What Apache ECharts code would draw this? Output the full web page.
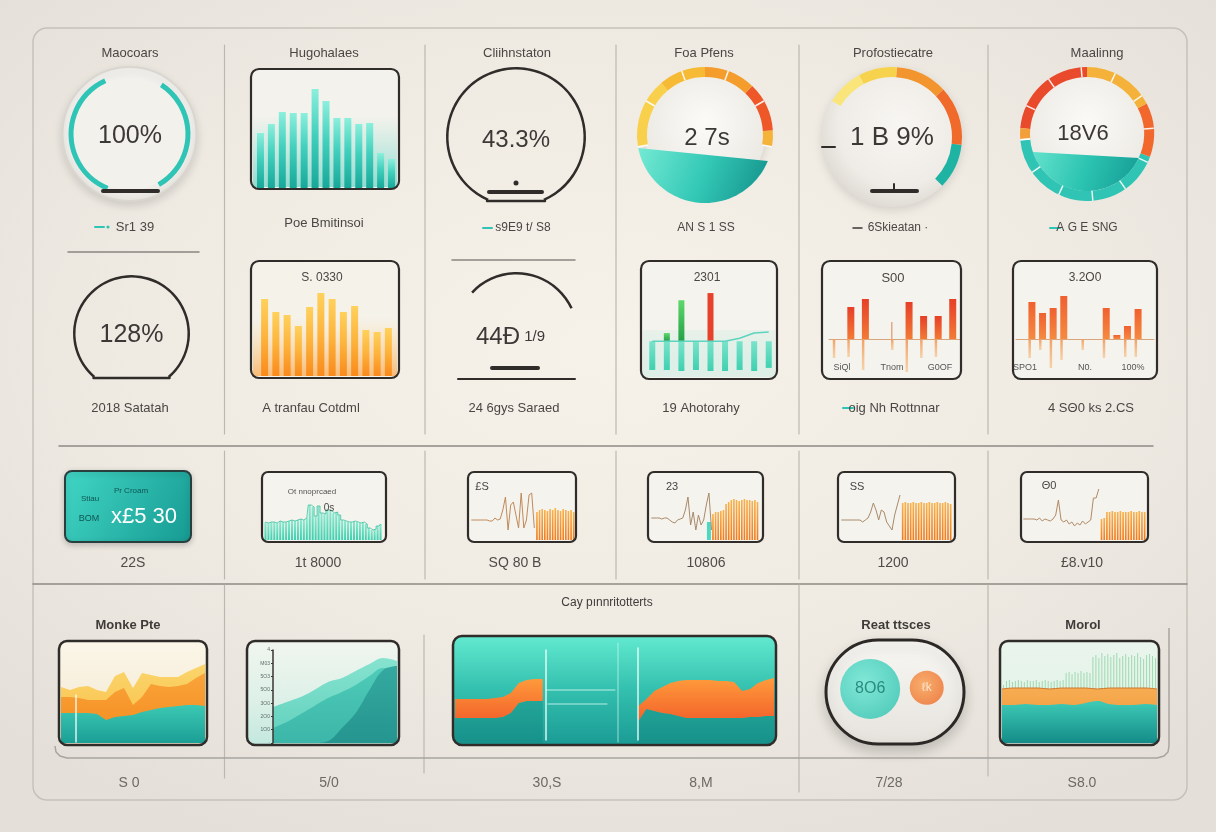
<!DOCTYPE html>
<html>
<head>
<meta charset="utf-8">
<title>Dashboard</title>
<script src="https://cdn.jsdelivr.net/npm/echarts@6.0.0/dist/echarts.min.js"></script>
<style>
html,body{margin:0;padding:0;}
body{width:1216px;height:832px;overflow:hidden;background:#ebe7e0;}
#chart{width:1216px;height:832px;background:radial-gradient(ellipse 70% 65% at 50% 42%, #f6f2ea 0%, #efebe3 55%, #e4e0d9 100%);}
</style>
</head>
<body>
<div id="chart"></div>
<script>
// ================= DATA =================
const row1Titles = ['Maocoars','Hugohalaes','Cliihnstaton','Foa Pfens','Profostiecatre','Maalinng'];
const row1Captions = ['Sr1 39','Poe Bmitinsoi','s9E9 t/ S8','AN S 1 SS','6Skieatan ·','A G E SNG'];
const row2Captions = ['2018 Satatah','A tranfau Cotdml','24 6gys Saraed','19 Ahotorahy','oig Nh Rottnnar','4 SΘ0 ks 2.CS'];
const row3Captions = ['22S','1t 8000','SQ 80 B','10806','1200','£8.v10'];
const row4Titles = ['Monke Pte','Cay pınnritotterts','Reat ttsces','Morol'];
const row4Captions = ['S 0','5/0','30,S','8,M','7/28','S8.0'];
const boxLabels = ['S. 0330','2301','S00','3.2O0'];
const boxAxisLabels5 = ['SiQl','Tnom','G0OF'];
const boxAxisLabels6 = ['SPO1','N0.','100%'];
const sparkLabels = ['Ot nnoprcaed','0s','£S','23','SS','Θ0'];
const kpiTexts = ['Pr Croam','Stiau','BOM','x£5 30'];
const centerTexts = ['100%','43.3%','2 7s','1 B 9%','18V6','128%'];
const arcTexts = ['44Ð',' 1/9'];

const ringArcs = [57.5, 117, 52, 133.5];
const gaugeValues = [43.3, 27, 18.9, 18, 128, 44];

const tealBars = [55,64,76,75,75,99,87,70,70,64,65,35,29];
const orangeBars = [77,64,61,50,69,83,77,64,70,46,44,48];

const mixNeg = [-28,-28,-29,-28,-29,-29,-28,-29,-26];
const mixGreen = [null,8,40,null,null,null,null,null,null];
const mixRed = [null,null,null,null,47,null,null,null,null];
const mixLine = [0,0,0,0,0,0,3,8,9];

const p5Up = [null,32,40,null,null,37,23,23,40];
const p5Down = [-19,-18,-31,null,-11,-33,-19,-18,null];
const p5Thin = [null,null,null,null,17,null,null,null,null];

const p6Up = [null,37,26,31,43,null,null,null,31,4,13,30,null];
const p6Down = [null,-19,-11,-29,-21,null,-11,null,-19,null,-18,-18,null];

const spark2 = [18,17,18,18,17,19,18,18,19,20,19,20,21,20,22,35,33,24,34,27,26,30,29,27,28,25,20,19,18,18,19,18,17,18,16,12,10,11,14,16];
const spark3Line = [20,20,20,20,20,20,20,19,19,22,20,21,30,43,10,35,38,25,12,47,12,20,45,47,12];
const spark3Bars = [28,30,31,30,29,31,30,32,30,29,31,30,29,30,28];
const spark4Line = [22,22,22,22,21,22,22,20,18,17,20,21,22,30,43,15,28,10,25,15,20,35,47,10];
const spark4Bars = [26,28,28,29,30,36,38,40,41,40,39,40,41,40,40,39,40,38];
const spark4Teal = [22, 18];
const spark5Line = [20,20,20,20,20,20,20,20,18,20,22,28,37,30,20,30,28,18,14,10,25,35,45];
const spark5Bars = [37,38,37,37,38,37,37,38,37,37,38,37,37,38,37,37,38,37,36];
const spark6Line = [21,21,21,21,21,20,22,19,21,20,19,21,25,40,20,18,20,16,18,14,17,15,19,16,18,20,42,42,51];
const spark6Bars = [21,22,28,28,29,28,28,29,28,28,28,29,28,28,29,28,28];

const monkeYellow = [56,53,56,57,53,51,67,71,55,70,68,66,66,66,71,75,79];
const monkeOrange = [46,46,45,43,43,43,51,55,38,46,59,57,56,57,59,65,70];
const monkeTeal = [30,30,30,30,29,23,26,27,28,31,33,35,36,37,38,38,37];

const hillBack = [271,309,346,399,459,489,542,595,640,617];
const hillMid = [113,158,218,279,339,384,437,504,565,565];
const hillFront = [0,0,0,0,15,113,226,399,550,580];
const hillTicks = ['·','1O0','2O0','3O0','5O0','5O3','M03','4'];

const bandTop = [44,44,44,44,44,45,46,50,60,63,64,64,null,null,null,null,null,null,null,null,null,null,null,37,44,52,56,60,62,63,63,63,63,62,62,61,52,54,60,63,65];
const bandBottom = [25,25,25,25,25,25,26,30,40,42,42,42,null,null,null,null,null,null,null,null,null,null,null,22,34,32,30,29,27,25,25,25,25,25,25,25,25,26,26,27,27];

const bubbles = [[32,53,60],[73,54,34]];
const bubbleLabels = ['8O6','ℓk'];

const morolBars = [58,62,63,61,62,63,62,61,63,62,62,63,61,62,63,62,61,62,63,62,63,70,71,69,71,70,72,70,71,70,86,88,85,90,87,89,86,88,90,85,87,89,86,88,87,90,86,84,88,89,87,85];
const morolOrange = [54,55,55,55,54,55,55,55,54,55,55,55,55,54];
const morolTeal = [38,38,39,38,38,39,38,40,42,39,38,38,39,38];

// ================= HELPERS =================
const FONT = '"Liberation Sans", Arial, "DejaVu Sans", sans-serif';
const TXT = '#4a4643';
const DARK = '#2f2c2a';
const grids = [], xAxes = [], yAxes = [], series = [], G = [];

function lg(x, y, x2, y2, stops) {
  return { type: 'linear', x, y, x2, y2, colorStops: stops.map(s => ({ offset: s[0], color: s[1] })) };
}
function rg(cx, cy, r, stops) {
  return { type: 'radial', x: cx, y: cy, r, colorStops: stops.map(s => ({ offset: s[0], color: s[1] })) };
}
function grid(l, t, w, h) { grids.push({ left: l, top: t, width: w, height: h, containLabel: false }); return grids.length - 1; }
function xcat(g, n, gap, extra) {
  xAxes.push(Object.assign({ type: 'category', gridIndex: g, show: false, boundaryGap: gap !== false,
    data: Array.from({ length: n }, (_, i) => String(i)) }, extra || {}));
  return xAxes.length - 1;
}
function xval(g, min, max) { xAxes.push({ type: 'value', gridIndex: g, show: false, min, max }); return xAxes.length - 1; }
function yval(g, min, max, extra) {
  yAxes.push(Object.assign({ type: 'value', gridIndex: g, show: false, min, max, splitLine: { show: false } }, extra || {}));
  return yAxes.length - 1;
}
function rect(x, y, w, h, r, style, z) { G.push({ type: 'rect', silent: true, z: z == null ? 0 : z, shape: { x, y, width: w, height: h, r }, style }); }
function line(x1, y1, x2, y2, stroke, lw, z) { G.push({ type: 'line', silent: true, z: z == null ? 5 : z, shape: { x1, y1, x2, y2 }, style: { stroke, lineWidth: lw, lineCap: 'round' } }); }
function circ(cx, cy, r, style, z) { G.push({ type: 'circle', silent: true, z: z == null ? 0 : z, shape: { cx, cy, r }, style }); }
function poly(points, style, z, type) { G.push({ type: type || 'polygon', silent: true, z: z == null ? 1 : z, shape: { points }, style }); }
function txt(x, y, s, size, color, weight, align) {
  G.push({ type: 'text', silent: true, z: 20, x, y, style: { text: s, fontSize: size, fontFamily: FONT, fontWeight: weight || 'normal',
    fill: color || TXT, textAlign: align || 'center', textVerticalAlign: 'middle', align: align || 'center', verticalAlign: 'middle' } });
}
function bowl(cx, cy, r, leftY, rightY, fill) {
  const tR = Math.asin((rightY - cy) / r), tL = Math.PI - Math.asin((leftY - cy) / r);
  const pts = [];
  for (let k = 0; k <= 48; k++) { const t = tR + (tL - tR) * k / 48; pts.push([cx + r * Math.cos(t), cy + r * Math.sin(t)]); }
  poly(pts, { fill }, 1);
}
function boxBg(x, y, w, h, r, fill) { rect(x, y, w, h, r, { fill }, 0); }
function boxBorder(x, y, w, h, r, lw) { rect(x, y, w, h, r, { fill: 'none', stroke: DARK, lineWidth: lw || 2.2 }, 10); }
function gauge(o) {
  series.push({
    type: 'gauge', center: o.center, radius: o.radius, startAngle: o.start, endAngle: o.end, min: 0, max: o.max || 100,
    splitNumber: o.split || 5, silent: true, z: 3,
    axisLine: { show: true, lineStyle: { width: o.width, color: o.colors } },
    progress: { show: false }, pointer: { show: false }, anchor: { show: false }, title: { show: false },
    axisTick: { show: false },
    splitLine: o.splitLine ? { show: true, length: o.width, distance: -o.width, lineStyle: { color: 'rgba(255,255,255,0.9)', width: 1.5 } } : { show: false },
    axisLabel: { show: false },
    detail: Object.assign({ show: true, offsetCenter: o.offset || [0, 0], fontSize: o.fontSize || 24, color: '#3b3836',
      fontFamily: FONT, fontWeight: 'normal', formatter: o.formatter, valueAnimation: false }, o.detail || {}),
    data: [{ value: o.value }]
  });
}

// ================= FRAME & DIVIDERS =================
rect(33, 28, 1154, 772, 14, { fill: 'none', stroke: '#c6c2bb', lineWidth: 1.5 }, 1);
const colX = [224.5, 425, 616, 799, 988];
colX.forEach(x => line(x, 45, x, 434, '#bcb7af', 1.2, 1));
line(59, 446, 1153, 446, '#8e8a84', 1.5, 1);
colX.forEach(x => line(x, 451, x, 579, '#bcb7af', 1.2, 1));
line(33, 584, 1187, 584, '#8e8a84', 1.5, 1);
line(224.5, 585, 224.5, 778, '#bcb7af', 1.2, 1);
line(424, 635, 424, 773, '#bcb7af', 1.2, 1);
line(799, 585, 799, 792, '#bcb7af', 1.2, 1);
line(988, 585, 988, 776, '#bcb7af', 1.2, 1);
poly([[55,746],[56,752],[60,756],[67,758],[1157,758],[1164,756],[1168,752],[1169,746],[1169,628]],
  { fill: 'none', stroke: '#a8a49e', lineWidth: 1.5 }, 1, 'polyline');

// ================= ROW 1 =================
const r1x = [130, 324, 517, 704, 893, 1097];
row1Titles.forEach((t, i) => txt(r1x[i], 53, t, 13, TXT));

// P1 ring
circ(129.5, 134, 67, { fill: rg(0.5, 0.45, 0.6, [[0, '#fbfaf8'], [0.75, '#f1efeb'], [1, '#e2dfda']]), stroke: '#d9d6d0', lineWidth: 2,
  shadowBlur: 10, shadowColor: 'rgba(0,0,0,0.13)', shadowOffsetY: 4 }, 0);
circ(129.5, 134, 56, { fill: '#f3f1ec' }, 1);
series.push({ type: 'pie', center: [129.5, 134], radius: [56, 61], startAngle: 114.5, clockwise: true, silent: true, z: 3,
  label: { show: false }, labelLine: { show: false },
  data: ringArcs.map((v, i) => ({ value: v, itemStyle: { color: i % 2 === 1 ? '#2ec4b6' : 'rgba(0,0,0,0)' } })) });
line(103, 191, 158, 191, DARK, 4, 6);
txt(130, 136, centerTexts[0], 25, '#3b3836');
line(95, 227, 104, 227, '#2ec4b6', 2); circ(108, 227, 1.6, { fill: '#2ec4b6' }, 5);
txt(135, 227, row1Captions[0], 13);

// P2 teal bars
boxBg(251, 69, 148, 120, 8, '#f4f2ec');
rect(253, 116, 144, 71, 0, { fill: lg(0, 0, 0, 1, [[0, 'rgba(70,215,195,0)'], [1, 'rgba(46,196,182,0.5)']]) }, 0);
{
  const g = grid(255, 71, 142, 117), x = xcat(g, tealBars.length), y = yval(g, 0, 117);
  series.push({ type: 'bar', xAxisIndex: x, yAxisIndex: y, data: tealBars, barWidth: 7, silent: true,
    itemStyle: { color: lg(0, 0, 0, 1, [[0, '#8cefdc'], [0.45, '#43d1be'], [1, '#17a899']]) } });
}
boxBorder(251, 69, 148, 120, 8);
txt(324, 223, row1Captions[1], 13);

// P3 outlined circle
gauge({ center: [516, 137], radius: 70, start: 246.1, end: -66.1, width: 2.5, colors: [[1, DARK]], value: gaugeValues[0],
  formatter: () => centerTexts[1], offset: [0, 3], fontSize: 24 });
line(487, 201, 545, 201, DARK, 2.5, 6);
circ(516, 183, 2.5, { fill: DARK }, 6);
line(489, 192, 542, 192, DARK, 4, 6);
line(483, 228, 492, 228, '#2ec4b6', 2);
txt(523, 228, row1Captions[2], 12);

// P4 gauge Foa Pfens
circ(705, 135, 60, { fill: rg(0.5, 0.4, 0.65, [[0, '#fcfbf8'], [1, '#e9e6e0']]), shadowBlur: 8, shadowColor: 'rgba(0,0,0,0.15)' }, 0);
bowl(705, 135, 68, 148, 161, lg(0, 0, 1, 1, [[0, '#74ead4'], [0.5, '#33c8b6'], [1, '#128e88']]));
gauge({ center: [705, 135], radius: 68, start: 190, end: -10, width: 10, split: 5, splitLine: true,
  colors: [[0.3, '#f9d04c'], [0.5, '#f7ba35'], [0.72, '#f49c2c'], [0.93, '#ee5728'], [1, '#f5b33a']],
  value: gaugeValues[1], formatter: () => centerTexts[2], offset: [2, 3], fontSize: 24 });
txt(706, 228, row1Captions[3], 12);

// P5 gauge Profostiecatre
circ(892, 137, 70, { fill: rg(0.55, 0.42, 0.62, [[0, '#f8f6f2'], [0.7, '#efece7'], [1, '#dcd8d1']]), shadowBlur: 10, shadowColor: 'rgba(0,0,0,0.12)', shadowOffsetY: 3 }, 0);
gauge({ center: [892, 137], radius: 70, start: 149, end: -44, width: 10, split: 6, splitLine: false,
  colors: [[0.16, '#f9e57a'], [0.326, '#f7d24c'], [0.55, '#f3952e'], [0.805, '#ef6a2b'], [1, '#1fb3a3']],
  value: gaugeValues[2], formatter: () => centerTexts[3], offset: [0, 1], fontSize: 26 });
line(822, 147, 835, 147, DARK, 2, 6);
line(872, 191, 917, 191, DARK, 4, 6);
line(894, 184, 894, 191, DARK, 2, 6);
line(853, 228, 862, 228, '#3a3633', 1.5);
txt(898, 228, row1Captions[4], 12);

// P6 gauge Maalinng
circ(1087, 134, 58, { fill: rg(0.5, 0.4, 0.65, [[0, '#fbfaf7'], [1, '#ebe8e2']]), shadowBlur: 8, shadowColor: 'rgba(0,0,0,0.15)' }, 0);
bowl(1087, 134, 57, 152, 158, lg(0, 0, 1, 1, [[0, '#63e2cc'], [0.5, '#2bc3b1'], [1, '#149a92']]));
gauge({ center: [1087, 134], radius: 67, start: 185, end: -175, width: 10, split: 12, splitLine: true,
  colors: [[0.028, '#f4a03a'], [0.264, '#ea4a2c'], [0.439, '#f5b23a'], [0.569, '#f1672c'], [1, '#2fc4b3']],
  value: gaugeValues[3], formatter: () => centerTexts[4], offset: [-4, 0], fontSize: 22 });
line(1050, 228, 1060, 228, '#2ec4b6', 2);
txt(1087, 228, row1Captions[5], 12);

// ================= ROW 2 =================
// P1 circle
line(68, 252, 199, 252, '#8a8680', 1.5, 1);
gauge({ center: [131.5, 333.5], radius: 58.5, start: 229.5, end: -49.5, width: 2.5, colors: [[1, DARK]], value: gaugeValues[4], max: 200,
  formatter: () => centerTexts[5], offset: [0, 2], fontSize: 25 });
line(93.5, 378, 169.5, 378, DARK, 2.5, 6);
txt(130, 408, row2Captions[0], 13);

// P2 orange bars
boxBg(251, 261, 148, 117, 8, '#f5f2ea');
rect(253, 318, 144, 58, 0, { fill: lg(0, 0, 0, 1, [[0, 'rgba(255,200,110,0)'], [1, 'rgba(250,150,40,0.6)']]) }, 0);
{
  const g = grid(259, 263, 135, 113), x = xcat(g, orangeBars.length), y = yval(g, 0, 113);
  series.push({ type: 'bar', xAxisIndex: x, yAxisIndex: y, data: orangeBars, barWidth: 7, silent: true,
    itemStyle: { color: lg(0, 0, 0, 1, [[0, '#ffd15c'], [0.5, '#fdb33c'], [1, '#f98a1c']]) } });
}
boxBorder(251, 261, 148, 117, 8);
txt(322, 278, boxLabels[0], 12);
txt(311, 408, row2Captions[1], 13);

// P3 arc
line(452, 260, 575, 260, '#8a8680', 1.5, 1);
gauge({ center: [516.5, 334], radius: 62, start: 137, end: 25, width: 2.5, colors: [[1, DARK]], value: gaugeValues[5],
  formatter: () => '{a|' + arcTexts[0] + '}{b|' + arcTexts[1] + '}', offset: [-6, 3],
  detail: { rich: { a: { fontSize: 24, color: '#3b3836', fontFamily: FONT }, b: { fontSize: 15, color: '#3b3836', fontFamily: FONT } } } });
line(492, 368, 538, 368, DARK, 4, 6);
line(458, 379, 575, 379, DARK, 2, 6);
txt(514, 408, row2Captions[2], 13);

// P4 mixed
boxBg(641, 261, 136, 118, 8, '#f5f3ed');
rect(643, 330, 132, 47, 0, { fill: lg(0, 0, 0, 1, [[0, 'rgba(160,230,215,0.15)'], [1, 'rgba(200,235,225,0.5)']]) }, 0);
{
  const g = grid(645, 290, 131, 82), x = xcat(g, mixNeg.length), y = yval(g, -30, 50);
  series.push({ type: 'bar', xAxisIndex: x, yAxisIndex: y, data: mixNeg, barWidth: 6, barGap: '-100%', silent: true,
    itemStyle: { color: lg(0, 0, 0, 1, [[0, '#7ae3cb'], [1, '#3fd0b0']]) } });
  series.push({ type: 'bar', xAxisIndex: x, yAxisIndex: y, data: mixGreen, barWidth: 6, barGap: '-100%', silent: true,
    itemStyle: { color: lg(0, 0, 0, 1, [[0, '#5ed86c'], [1, '#24a048']]) } });
  series.push({ type: 'bar', xAxisIndex: x, yAxisIndex: y, data: mixRed, barWidth: 6, barGap: '-100%', silent: true,
    itemStyle: { color: '#e8412b' } });
  series.push({ type: 'line', xAxisIndex: x, yAxisIndex: y, data: mixLine, symbol: 'none', silent: true, z: 4,
    lineStyle: { color: '#5ed3be', width: 1.5 } });
}
boxBorder(641, 261, 136, 118, 8);
txt(707, 278, boxLabels[1], 12);
txt(701, 408, row2Captions[3], 13);

// P5 up/down bars
boxBg(822, 261, 139, 118, 8, '#f5f3ee');
{
  const g = grid(829, 289, 131, 90), y = yval(g, -40, 50);
  const x = xcat(g, p5Up.length, true, { show: true, axisLine: { show: true, onZero: true, lineStyle: { color: '#d9a57c', width: 1 } },
    axisTick: { show: false }, axisLabel: { show: false }, splitLine: { show: false } });
  series.push({ type: 'bar', xAxisIndex: x, yAxisIndex: y, data: p5Down, barWidth: 2.5, barGap: '-100%', silent: true,
    itemStyle: { color: lg(0, 0, 0, 1, [[0, '#f0a066'], [1, 'rgba(246,196,140,0.7)']]) } });
  series.push({ type: 'bar', xAxisIndex: x, yAxisIndex: y, data: p5Thin, barWidth: 1.5, barGap: '-100%', silent: true,
    itemStyle: { color: '#e2aa84' } });
  series.push({ type: 'bar', xAxisIndex: x, yAxisIndex: y, data: p5Up, barWidth: 7, barGap: '-100%', silent: true,
    itemStyle: { color: lg(0, 0, 0, 1, [[0, '#e63f28'], [1, '#f27a36']]) } });
}
boxBorder(822, 261, 139, 118, 8);
txt(893, 278, boxLabels[2], 13);
[842, 892, 940].forEach((x, i) => txt(x, 368, boxAxisLabels5[i], 9, '#555'));
line(843, 408, 853, 408, '#2ec4b6', 2);
txt(894, 408, row2Captions[4], 13);

// P6 up/down bars
boxBg(1013, 261, 144, 118, 8, '#f5f3ee');
{
  const g = grid(1016, 289, 138, 90), y = yval(g, -40, 50);
  const x = xcat(g, p6Up.length, true, { show: true, axisLine: { show: true, onZero: true, lineStyle: { color: '#d9a57c', width: 1 } },
    axisTick: { show: false }, axisLabel: { show: false }, splitLine: { show: false } });
  series.push({ type: 'bar', xAxisIndex: x, yAxisIndex: y, data: p6Down, barWidth: 2.5, barGap: '-100%', silent: true,
    itemStyle: { color: lg(0, 0, 0, 1, [[0, '#f0a066'], [1, 'rgba(246,196,140,0.7)']]) } });
  series.push({ type: 'bar', xAxisIndex: x, yAxisIndex: y, data: p6Up, barWidth: 7, barGap: '-100%', silent: true,
    itemStyle: { color: lg(0, 0, 0, 1, [[0, '#f06030'], [1, '#f58a40']]) } });
}
boxBorder(1013, 261, 144, 118, 8);
txt(1085, 278, boxLabels[3], 12);
[1025, 1085, 1133].forEach((x, i) => txt(x, 368, boxAxisLabels6[i], 9, '#555'));
txt(1091, 408, row2Captions[5], 13);

// ================= ROW 3 =================
// P1 KPI tile
rect(65, 471, 126, 71, 7, { fill: lg(0, 0, 1, 1, [[0, '#41d6c5'], [1, '#169a92']]), stroke: '#2a3f3d', lineWidth: 2,
  shadowBlur: 6, shadowColor: 'rgba(0,0,0,0.2)', shadowOffsetY: 2 }, 1);
txt(131, 491, kpiTexts[0], 8, '#0f5753');
txt(90, 499, kpiTexts[1], 8, '#0f5753');
txt(89, 519, kpiTexts[2], 9, '#0f5753');
txt(144, 517, kpiTexts[3], 22, '#ffffff');
const r3x = [133, 318, 515, 706, 893, 1082];
row3Captions.forEach((t, i) => txt(r3x[i], 563, t, 14, '#4f4b47'));

function sparkBox(x, y, w, h) { boxBg(x, y, w, h, 6, '#f5f3ee'); boxBorder(x, y, w, h, 6, 2.2); }
const sparkOrange = lg(0, 0, 0, 1, [[0, '#f9b24c'], [1, '#f07a1a']]);
function spark(gx, gw, lineData, barData, lineColor) {
  const n = lineData.length + barData.length;
  const g = grid(gx, 472, gw, 68), x = xcat(g, n), y = yval(g, 0, 68);
  series.push({ type: 'bar', xAxisIndex: x, yAxisIndex: y, data: Array(lineData.length).fill(null).concat(barData),
    barWidth: '62%', silent: true, itemStyle: { color: sparkOrange } });
  series.push({ type: 'line', xAxisIndex: x, yAxisIndex: y, data: lineData.concat(Array(barData.length).fill(null)),
    symbol: 'none', silent: true, z: 4, lineStyle: { color: lineColor || '#c08a5a', width: 1 } });
  return { x, y, n };
}

// P2 mint bars
sparkBox(262, 472, 124, 70);
{
  const g = grid(264, 472, 118, 68), x = xcat(g, spark2.length), y = yval(g, 0, 68);
  series.push({ type: 'bar', xAxisIndex: x, yAxisIndex: y, data: spark2, barWidth: '70%', silent: true,
    itemStyle: { color: lg(0, 0, 0, 1, [[0, '#8ee9cf'], [1, '#3ccfae']]) } });
  series.push({ type: 'line', xAxisIndex: x, yAxisIndex: y, data: spark2, symbol: 'none', silent: true, step: 'middle', z: 4,
    lineStyle: { color: '#3fbfa0', width: 0.8 } });
}
txt(312, 492, sparkLabels[0], 8, '#555');
txt(329, 508, sparkLabels[1], 10, '#444');

// P3
sparkBox(468, 472, 108, 70);
spark(470, 105, spark3Line, spark3Bars);
txt(482, 487, sparkLabels[2], 11, '#444');

// P4
sparkBox(648, 472, 115, 70);
{
  const s = spark(650, 110, spark4Line, spark4Bars, '#a88a6a');
  const tealData = Array(s.n).fill(null); tealData[spark4Teal[0]] = spark4Teal[1];
  series.push({ type: 'bar', xAxisIndex: s.x, yAxisIndex: s.y, data: tealData, barWidth: 4, barGap: '-100%', silent: true,
    itemStyle: { color: '#4fd8bf' } });
}
txt(672, 487, sparkLabels[3], 11, '#444');

// P5
sparkBox(838, 472, 117, 70);
spark(840, 112, spark5Line, spark5Bars, '#a88a6a');
txt(857, 487, sparkLabels[4], 11, '#444');

// P6
sparkBox(1021, 472, 127, 70);
spark(1022, 124, spark6Line, spark6Bars, '#b08a66');
txt(1049, 486, sparkLabels[5], 11, '#444');

// ================= ROW 4 =================
txt(128, 625, row4Titles[0], 13, '#3f3b38', 'bold');
txt(607, 603, row4Titles[1], 12, '#3f3b38');
txt(896, 625, row4Titles[2], 13, '#3f3b38', 'bold');
txt(1083, 625, row4Titles[3], 13, '#3f3b38', 'bold');
const r4x = [129, 329, 547, 701, 889, 1082];
row4Captions.forEach((t, i) => txt(r4x[i], 783, t, 14, '#6d6964'));

// P1 Monke Pte areas
boxBg(59, 641, 148, 104, 8, lg(0, 0, 0, 1, [[0, '#fbf6e8'], [1, '#f3e7cf']]));
{
  const g = grid(61, 643, 144, 100), x = xcat(g, monkeYellow.length, false), y = yval(g, 0, 100);
  series.push({ type: 'line', xAxisIndex: x, yAxisIndex: y, data: monkeYellow, symbol: 'none', silent: true, z: 2,
    lineStyle: { width: 0 }, areaStyle: { opacity: 1, color: lg(0, 0, 0, 1, [[0, '#fbd56c'], [1, '#f8bd44']]) } });
  series.push({ type: 'line', xAxisIndex: x, yAxisIndex: y, data: monkeOrange, symbol: 'none', silent: true, z: 3,
    lineStyle: { width: 0 }, areaStyle: { opacity: 1, color: lg(0, 0, 0, 1, [[0, '#f9a43a'], [1, '#f48a1c']]) } });
  series.push({ type: 'line', xAxisIndex: x, yAxisIndex: y, data: monkeTeal, symbol: 'none', silent: true, z: 4,
    lineStyle: { width: 0 }, areaStyle: { opacity: 1, color: lg(0, 0, 0, 1, [[0, '#3cc8b4'], [1, '#1b9f95']]) } });
}
line(76, 695, 76, 742, 'rgba(255,255,255,0.85)', 1.5, 6);
boxBorder(59, 641, 148, 104, 8, 2.5);

// P2 teal hills
boxBg(247, 641, 152, 104, 8, lg(0, 0, 0, 1, [[0, '#f1f6ef'], [0.6, '#dcf0e7'], [1, '#c3e8de']]));
{
  const g = grid(273, 650, 124, 93), x = xcat(g, hillBack.length, false);
  const y = yval(g, 0, 700, { show: true, interval: 100, z: 6,
    axisLine: { show: true, lineStyle: { color: '#3a3633', width: 1.5 } },
    axisTick: { show: true, length: 2, lineStyle: { color: '#3a3633' } },
    axisLabel: { show: true, fontSize: 5, color: '#5d6d6a', margin: 3, fontFamily: FONT, formatter: v => hillTicks[Math.round(v / 100)] } });
  series.push({ type: 'line', xAxisIndex: x, yAxisIndex: y, data: hillBack, smooth: 0.4, symbol: 'none', silent: true, z: 2,
    lineStyle: { width: 0 }, areaStyle: { opacity: 1, color: lg(0, 0, 0, 1, [[0, '#86e3cf'], [1, '#5fd0bd']]) } });
  series.push({ type: 'line', xAxisIndex: x, yAxisIndex: y, data: hillMid, smooth: 0.4, symbol: 'none', silent: true, z: 3,
    lineStyle: { width: 0 }, areaStyle: { opacity: 1, color: lg(0, 0, 0, 1, [[0, '#4fcbb9'], [1, '#3bb6a8']]) } });
  series.push({ type: 'line', xAxisIndex: x, yAxisIndex: y, data: hillFront, smooth: 0.4, symbol: 'none', silent: true, z: 4,
    lineStyle: { width: 0 }, areaStyle: { opacity: 1, color: lg(0, 0, 0, 1, [[0, '#35a99f'], [1, '#24958f']]) } });
}
boxBorder(247, 641, 152, 104, 8, 2.5);

// P3 wide band
boxBg(453, 636, 323, 109, 9, lg(0, 0, 0, 1, [[0, '#62ead0'], [0.5, '#33bfae'], [1, '#1a9b95']]));
{
  const g = grid(455, 638, 319, 105), x = xcat(g, bandTop.length, false), y = yval(g, 0, 105);
  const thick = bandTop.map((v, i) => (v == null || bandBottom[i] == null) ? null : v - bandBottom[i]);
  series.push({ type: 'line', xAxisIndex: x, yAxisIndex: y, data: bandBottom, symbol: 'none', silent: true, z: 2,
    lineStyle: { width: 0 }, areaStyle: { opacity: 1, color: 'rgba(10,118,112,0.28)' } });
  series.push({ type: 'line', xAxisIndex: x, yAxisIndex: y, data: bandBottom, stack: 'band', symbol: 'none', silent: true, z: 3,
    lineStyle: { width: 0 } });
  series.push({ type: 'line', xAxisIndex: x, yAxisIndex: y, data: thick, stack: 'band', symbol: 'none', silent: true, z: 3,
    lineStyle: { width: 0 }, areaStyle: { opacity: 1, color: lg(0, 0, 0, 1, [[0, '#ff9b3b'], [1, '#f2622b']]) } });
}
line(546, 650, 546, 740, 'rgba(235,255,250,0.9)', 1.5, 6);
line(618, 643, 618, 742, 'rgba(210,250,240,0.7)', 1, 6);
line(638, 648, 638, 740, 'rgba(235,255,250,0.9)', 1.5, 6);
line(546, 690, 615, 690, 'rgba(220,252,244,0.8)', 1, 6);
line(548, 704, 607, 704, 'rgba(220,252,244,0.8)', 1, 6);
boxBorder(453, 636, 323, 109, 9, 2.5);

// P4 bubbles pill
rect(826, 640, 138, 104, 52, { fill: lg(0, 0, 0, 1, [[0, '#f8f7f3'], [1, '#e6e3dd']]), stroke: '#2b2826', lineWidth: 3,
  shadowBlur: 14, shadowColor: 'rgba(0,0,0,0.18)', shadowOffsetY: 6 }, 0);
{
  const g = grid(826, 640, 138, 104), x = xval(g, 0, 100), y = yval(g, 0, 100);
  const cols = [rg(0.4, 0.4, 0.7, [[0, '#66e6d2'], [1, '#2cc4b1']]), rg(0.4, 0.4, 0.7, [[0, '#fa9e4e'], [1, '#ee6a24']])];
  const labCols = ['#17756d', '#fff4e6'];
  series.push({ type: 'scatter', xAxisIndex: x, yAxisIndex: y, silent: true, z: 4,
    data: bubbles.map((b, i) => ({ value: [b[0], b[1]], symbolSize: b[2], itemStyle: { color: cols[i] },
      label: { show: true, position: 'inside', formatter: () => bubbleLabels[i], color: labCols[i], fontSize: i === 0 ? 16 : 12, fontFamily: FONT } })) });
}

// P6 Morol
boxBg(1000, 641, 159, 104, 8, lg(0, 0, 0, 1, [[0, '#eaf5ec'], [1, '#dff1e6']]));
{
  const g = grid(1002, 643, 155, 100), xb = xcat(g, morolBars.length), xa = xcat(g, morolOrange.length, false), y = yval(g, 0, 100);
  series.push({ type: 'bar', xAxisIndex: xb, yAxisIndex: y, data: morolBars, barWidth: 1, silent: true, z: 2,
    itemStyle: { color: 'rgba(110,200,140,0.6)' } });
  series.push({ type: 'line', xAxisIndex: xa, yAxisIndex: y, data: morolOrange, smooth: 0.3, symbol: 'none', silent: true, z: 3,
    lineStyle: { width: 1, color: '#d0762e' }, areaStyle: { opacity: 1, color: lg(0, 0, 0, 1, [[0, '#f7ad52'], [1, '#f08f33']]) } });
  series.push({ type: 'line', xAxisIndex: xa, yAxisIndex: y, data: morolTeal, smooth: 0.4, symbol: 'none', silent: true, z: 4,
    lineStyle: { width: 0 }, areaStyle: { opacity: 1, color: lg(0, 0, 0, 1, [[0, '#3fcbb7'], [1, '#138c88']]) } });
}
boxBorder(1000, 641, 159, 104, 8, 2.5);

// ================= RENDER =================
const chart = echarts.init(document.getElementById('chart'), null, { renderer: 'canvas', width: 1216, height: 832 });
chart.setOption({
  backgroundColor: 'transparent',
  animation: false,
  grid: grids,
  xAxis: xAxes,
  yAxis: yAxes,
  graphic: { elements: G },
  series: series
});
</script>
</body>
</html>
